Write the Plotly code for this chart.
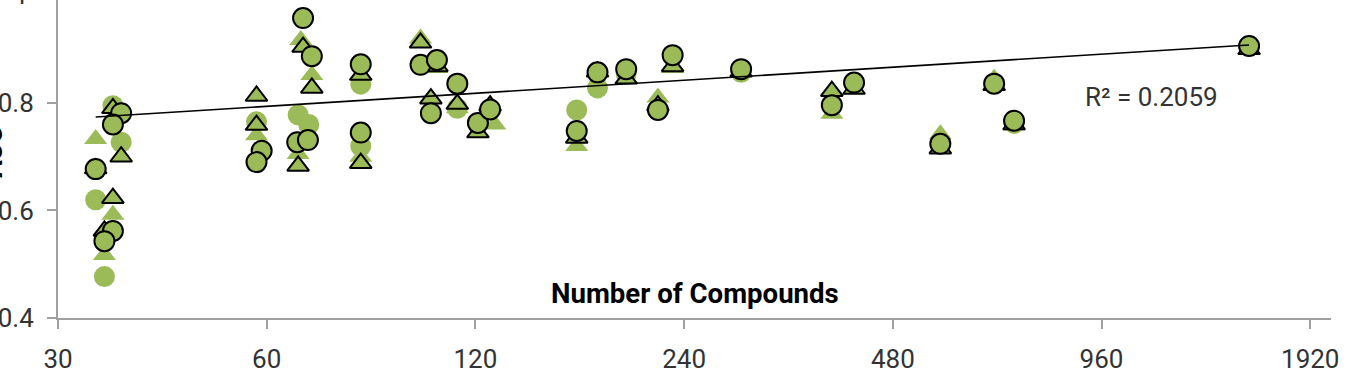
import math
import plotly.graph_objects as go

# ---- data (Number of Compounds vs AUC) ----
fc_x = [36, 37, 34, 35, 58, 66.6, 69, 82, 82, 113, 168, 180, 198, 290, 718]
fc_y = [0.795, 0.727, 0.62, 0.477, 0.765, 0.778, 0.76, 0.835, 0.72, 0.79, 0.787, 0.828, 0.855, 0.857, 0.762]

ft_x = [34, 35, 36, 37, 58, 67.2, 69.7, 66.6, 82, 100, 105.6, 113, 128, 168, 220, 231, 392, 562, 672, 718, 1567]
ft_y = [0.733, 0.517, 0.592, 0.70, 0.74, 0.917, 0.852, 0.705, 0.70, 0.92, 0.865, 0.79, 0.76, 0.72, 0.81, 0.865, 0.78, 0.742, 0.845, 0.758, 0.9]

ot_x = [36, 37, 34, 36, 35, 58, 58, 67.7, 69.7, 66.6, 82, 82, 100, 105.6, 103.5, 113, 121, 126, 168, 180, 198, 220, 231, 290, 392, 422, 562, 672, 718, 1567]
ot_y = [0.79, 0.70, 0.678, 0.623, 0.562, 0.813, 0.759, 0.904, 0.828, 0.683, 0.852, 0.688, 0.912, 0.868, 0.808, 0.798, 0.745, 0.795, 0.735, 0.858, 0.845, 0.795, 0.868, 0.858, 0.822, 0.826, 0.715, 0.833, 0.76, 0.9]

oc_x = [37, 36, 34, 36, 35, 59, 58, 67.7, 69.7, 66.4, 68.8, 82, 82, 100, 105.6, 103.5, 113, 121, 126, 168, 180, 198, 220, 231, 290, 392, 422, 562, 672, 718, 1567]
oc_y = [0.781, 0.76, 0.677, 0.562, 0.543, 0.711, 0.69, 0.958, 0.887, 0.727, 0.731, 0.872, 0.745, 0.871, 0.88, 0.781, 0.836, 0.763, 0.788, 0.748, 0.857, 0.863, 0.787, 0.889, 0.863, 0.796, 0.838, 0.724, 0.836, 0.767, 0.906]

trend_x = [34, 1567]
trend_y = [0.774, 0.908]

x_ticks = [30, 60, 120, 240, 480, 960, 1920]
x_tick_text = ["30", "60", "120", "240", "480", "960", "1920"]
y_ticks = [0.4, 0.6, 0.8, 1.0]
y_tick_text = ["0.4", "0.6", "0.8", "1"]

GREEN = "#9BBB59"
AXIS = "#A0A0A0"
TXT = "#333333"
FONT = "Roboto"

fig = go.Figure()
fig.add_trace(go.Scatter(x=fc_x, y=fc_y, mode="markers",
                         marker=dict(symbol="circle", size=21, color=GREEN, line=dict(width=0))))
fig.add_trace(go.Scatter(x=ft_x, y=ft_y, mode="markers",
                         marker=dict(symbol="triangle-up", size=20, color=GREEN, line=dict(width=0))))
fig.add_trace(go.Scatter(x=ot_x, y=ot_y, mode="markers",
                         marker=dict(symbol="triangle-up", size=19, color=GREEN, line=dict(width=2, color="black"))))
fig.add_trace(go.Scatter(x=oc_x, y=oc_y, mode="markers",
                         marker=dict(symbol="circle", size=20, color=GREEN, line=dict(width=2, color="black"))))
fig.add_trace(go.Scatter(x=trend_x, y=trend_y, mode="lines",
                         line=dict(color="black", width=1.6)))

y_top = 0.9916
fig.update_layout(
    width=1366, height=380,
    margin=dict(l=58, r=35, t=0, b=62),
    paper_bgcolor="white", plot_bgcolor="white",
    showlegend=False,
    font=dict(family=FONT, size=26, color=TXT),
)
fig.update_xaxes(type="log", range=[math.log10(30), math.log10(2057)],
                 tickvals=x_ticks, ticktext=x_tick_text, automargin=False,
                 showline=True, linecolor=AXIS, linewidth=2,
                 ticks="outside", ticklen=9, tickwidth=2, tickcolor=AXIS,
                 showgrid=False, zeroline=False,
                 tickfont=dict(family=FONT, size=26, color=TXT), ticklabelstandoff=8)
fig.update_yaxes(range=[0.4, y_top], tickvals=y_ticks, ticktext=y_tick_text,
                 automargin=False,
                 showline=True, linecolor=AXIS, linewidth=2,
                 ticks="outside", ticklen=9, tickwidth=2, tickcolor=AXIS,
                 showgrid=False, zeroline=False,
                 tickfont=dict(family=FONT, size=26, color=TXT), ticklabelstandoff=8)

# "1" tick label just above the visible top
fig.add_annotation(xref="paper", yref="paper", x=0, y=(1.0 - 0.4) / (y_top - 0.4),
                   text="1", showarrow=False, xanchor="right", yanchor="middle",
                   xshift=-27, font=dict(family=FONT, size=26, color=TXT))
# axis titles
fig.add_annotation(xref="paper", yref="paper", x=0.5, y=(318 - 293) / 318,
                   text="<b>Number of Compounds</b>", showarrow=False,
                   xanchor="center", yanchor="middle",
                   font=dict(family=FONT, size=27.6, color="black"))
fig.add_annotation(xref="paper", yref="paper", x=0, y=0.52,
                   text="<b>AUC</b>", showarrow=False, textangle=-90,
                   xanchor="center", yanchor="middle", xshift=-65,
                   font=dict(family=FONT, size=26, color="black"))
fig.add_annotation(xref="paper", yref="paper", x=(1083 - 58) / 1273, y=(318 - 97) / 318,
                   text="R² = 0.2059", showarrow=False, xanchor="left", yanchor="middle",
                   font=dict(family=FONT, size=26, color=TXT))

fig.write_html("out.html")
